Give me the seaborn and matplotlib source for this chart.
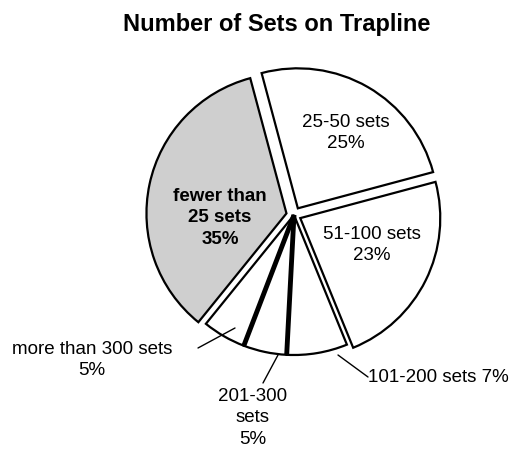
import matplotlib
matplotlib.use("Agg")
import numpy as np
import matplotlib.pyplot as plt
import seaborn as sns

# data
categories = ["25-50 sets", "51-100 sets", "101-200 sets", "201-300 sets",
              "more than 300 sets", "fewer than 25 sets"]
shares = [25, 23, 7, 5, 5, 35]
label_texts = ["25-50 sets\n25%", "51-100 sets\n23%", "101-200 sets 7%",
               "201-300\nsets\n5%", "more than 300 sets\n5%", "fewer than\n25 sets\n35%"]

sns.set_theme(style="white")
plt.rcParams["font.family"] = ["Liberation Sans", "DejaVu Sans"]
plt.rcParams["text.color"] = "black"

fig = plt.figure(figsize=(5.15, 4.51), dpi=100)
ax = fig.add_axes([0, 0, 1, 1])

# pie centre / radius in figure pixels (used only for placing text)
R_PX = 140
CX, CY = 294, 215


def px(x, y):
    return ((x - CX) / R_PX, (CY - y) / R_PX)


colors = ["white"] * 5 + ["#cfcfcf"]
explode = [0.055, 0.05, 0.0, 0.0, 0.0, 0.055]
wedges, _ = ax.pie(shares, startangle=105, counterclock=False, colors=colors,
                   explode=explode,
                   wedgeprops=dict(edgecolor="black", linewidth=1.6))

# heavy separators between the small slices
for w in wedges[2:4]:
    t = np.deg2rad(w.theta1)
    cx, cy = w.center
    ax.plot([cx, cx + w.r * np.cos(t)], [cy, cy + w.r * np.sin(t)],
            color="black", lw=3.5, solid_capstyle="butt")

fs = 13.5
ls = 1.35
# labels inside the big slices
ax.text(*px(346, 133), label_texts[0], ha="center", va="center", fontsize=fs, linespacing=ls)
ax.text(*px(372, 245), label_texts[1], ha="center", va="center", fontsize=fs, linespacing=ls)
ax.text(*px(220, 218), label_texts[5], ha="center", va="center", fontsize=fs,
        fontweight="bold", linespacing=ls)

# outside labels with leader lines
ax.text(*px(368, 377), label_texts[2], ha="left", va="center", fontsize=fs)
ax.text(*px(253, 418), label_texts[3], ha="center", va="center", fontsize=fs, linespacing=ls)
ax.text(*px(92, 360), label_texts[4], ha="center", va="center", fontsize=fs, linespacing=ls)

leaders = [((338, 355), (368, 377)), ((278, 355), (263, 383)), ((235, 328), (198, 348))]
for a, b in leaders:
    (x0, y0), (x1, y1) = px(*a), px(*b)
    ax.plot([x0, x1], [y0, y1], color="black", lw=1)

ax.set_xlim(-CX / R_PX, (515 - CX) / R_PX)
ax.set_ylim((CY - 451) / R_PX, CY / R_PX)
ax.set_aspect("auto")
ax.axis("off")

fig.text(277 / 515, 1 - 25 / 451, "Number of Sets on Trapline", ha="center",
         va="center", fontsize=17, fontweight="bold", color="black")

fig.savefig("out.png", dpi=100)
